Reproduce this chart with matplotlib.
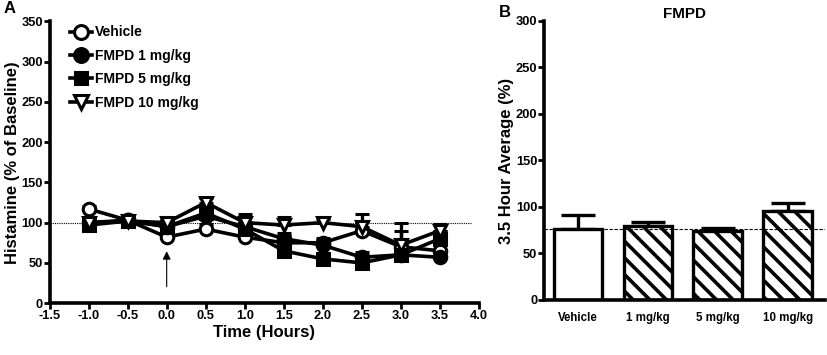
import numpy as np
import matplotlib
matplotlib.use('Agg')
import matplotlib.pyplot as plt
from matplotlib.lines import Line2D

plt.rcParams['font.family'] = ['Liberation Sans', 'DejaVu Sans']
plt.rcParams['font.weight'] = 'bold'
plt.rcParams['hatch.linewidth'] = 2.6

# Panel A: histamine time course
hours = [-1.0, -0.5, 0.0, 0.5, 1.0, 1.5, 2.0, 2.5, 3.0, 3.5]
vehicle = [117, 103, 82, 92, 82, 75, 75, 90, 70, 65]
vehicle_err = [4, 3, 5, 6, 5, 8, 6, 12, 20, 10]
fmpd1 = [100, 103, 95, 108, 95, 80, 72, 57, 60, 57]
fmpd1_err = [5, 3, 5, 8, 6, 7, 6, 6, 8, 6]
fmpd5 = [97, 102, 95, 112, 92, 65, 55, 50, 60, 80]
fmpd5_err = [5, 3, 5, 8, 8, 6, 5, 5, 6, 10]
fmpd10 = [100, 102, 100, 125, 100, 97, 100, 95, 72, 90]
fmpd10_err = [5, 4, 5, 5, 11, 10, 4, 16, 27, 8]

# Panel B: 3.5 hour average
groups = ['Vehicle', '1 mg/kg', '5 mg/kg', '10 mg/kg']
avg = [76, 80, 74, 96]
avg_err = [15, 4, 3, 8]

fig = plt.figure(figsize=(8.27, 3.55), dpi=100)
axA = fig.add_axes([0.060, 0.146, 0.519, 0.794])
axB = fig.add_axes([0.658, 0.155, 0.340, 0.786])

series = [
    (vehicle, vehicle_err, 'o', 'white', 'Vehicle'),
    (fmpd1, fmpd1_err, 'o', 'black', 'FMPD 1 mg/kg'),
    (fmpd5, fmpd5_err, 's', 'black', 'FMPD 5 mg/kg'),
    (fmpd10, fmpd10_err, 'v', 'white', 'FMPD 10 mg/kg'),
]
handles = []
for vals, err, mk, fc, lab in series:
    ms = 9 if mk != 's' else 8
    up = [np.zeros(len(err)), err]
    axA.errorbar(hours, vals, yerr=up, color='black', lw=2.6, marker=mk,
                 ms=ms, mfc=fc, mec='black', mew=2.2,
                 capsize=5, capthick=2.4, elinewidth=2.4)
    handles.append(Line2D([], [], color='black', lw=2.6, marker=mk, ms=ms + 1,
                          mfc=fc, mec='black', mew=2.2, label=lab))

axA.plot([-1.5, 3.9], [100, 100], color='black', lw=0.8, ls=(0, (1, 1)), zorder=0)
axA.annotate('', xy=(0, 68), xytext=(0, 17),
             arrowprops=dict(arrowstyle='-|>', color='black', lw=0.8,
                             mutation_scale=12))

axA.set_xlim(-1.5, 4.0)
axA.set_ylim(0, 350)
axA.set_xticks(np.arange(-1.5, 4.01, 0.5))
axA.set_xticklabels([f'{t:.1f}' for t in np.arange(-1.5, 4.01, 0.5)])
axA.set_yticks(range(0, 351, 50))
axA.set_xlabel('Time (Hours)', fontsize=12, fontweight='bold', labelpad=2)
axA.set_ylabel('Histamine (% of Baseline)', fontsize=12, fontweight='bold', labelpad=1)
leg = axA.legend(handles=handles, loc='upper left', bbox_to_anchor=(0.035, 1.005),
                 frameon=False, fontsize=10, handlelength=1.6, handletextpad=0.15,
                 labelspacing=0.68, borderaxespad=0)
for t in leg.get_texts():
    t.set_fontweight('bold')

# Panel B
xpos = np.arange(len(groups))
hatches = ['', '\\\\', '\\\\', '\\\\']
for i in range(len(groups)):
    axB.bar(xpos[i], avg[i], width=0.69, color='white', edgecolor='black',
            linewidth=2.4, hatch=hatches[i], zorder=2)
    axB.errorbar(xpos[i], avg[i], yerr=[[0], [avg_err[i]]], color='black',
                 lw=2.4, capsize=12, capthick=2.4, zorder=1)
axB.axhline(76, color='black', lw=0.8, ls=(0, (3, 1.5)), zorder=3)
axB.set_xlim(-0.48, 3.54)
axB.set_ylim(0, 300)
axB.set_yticks(range(0, 301, 50))
axB.set_xticks(xpos)
axB.set_xticklabels(groups)
axB.set_ylabel('3.5 Hour Average (%)', fontsize=12, fontweight='bold', labelpad=1)
axB.set_title('FMPD', fontsize=11, fontweight='bold', pad=-20)

for ax in (axA, axB):
    for s in ('top', 'right'):
        ax.spines[s].set_visible(False)
    for s in ('left', 'bottom'):
        ax.spines[s].set_linewidth(2.6)
    ax.tick_params(axis='both', width=2, length=4, labelsize=9.3, pad=1)
    for lab in ax.get_xticklabels() + ax.get_yticklabels():
        lab.set_fontweight('bold')
axB.tick_params(axis='x', length=0, pad=9, labelsize=8.3)

fig.text(0.004, 0.962, 'A', fontsize=12, fontweight='bold')
fig.text(0.603, 0.952, 'B', fontsize=12, fontweight='bold')

fig.savefig('out.png', dpi=100)
